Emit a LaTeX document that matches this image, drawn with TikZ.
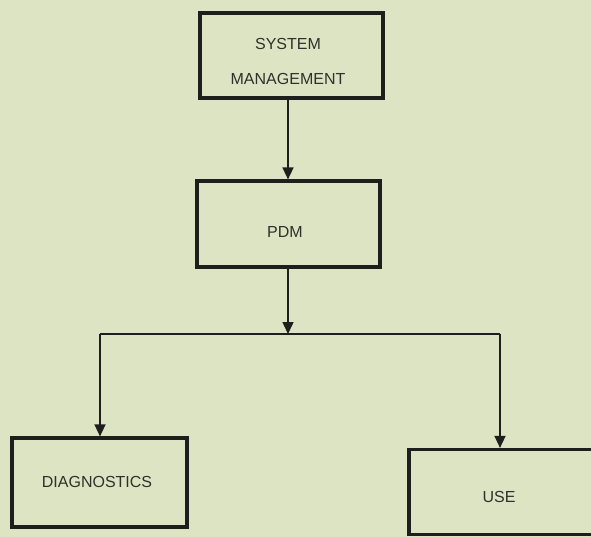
\documentclass[tikz,border=0pt]{standalone}
\usepackage{fontspec}
\setmainfont{Liberation Sans}
\usetikzlibrary{arrows.meta}
\definecolor{paper}{RGB}{221,228,195}
\definecolor{ink}{RGB}{30,30,28}
\definecolor{labelink}{RGB}{48,48,44}
\begin{document}
\begin{tikzpicture}[x=1pt,y=-1pt,
  unit/.style={draw=ink, line width=3.2pt, fill=none, inner sep=0pt},
  tag/.style={text=labelink, font=\fontsize{16}{35}\selectfont,
    align=center, inner sep=0pt},
  link/.style={draw=ink, line width=1.5pt},
  flow/.style={link, -{Triangle[width=11pt,length=12pt]}}]
  % page
  \fill[paper] (0,0) rectangle (591,537);
  \useasboundingbox (0,0) rectangle (591,537);
  % boxes
  \node[unit, minimum width=183pt, minimum height=85pt] (sm) at (291.5,55.5) {};
  \node[unit, minimum width=183pt, minimum height=86pt] (pdm) at (288.5,224) {};
  \node[unit, minimum width=175pt, minimum height=89pt] (diag) at (99.5,482.5) {};
  \node[unit, minimum width=184pt, minimum height=85pt] (use) at (501,492) {};
  % labels
  \node[tag] (smt) at (288,61) {SYSTEM\\MANAGEMENT};
  \node[tag] (pdmt) at (285,232) {PDM};
  \node[tag] (diagt) at (97,482) {DIAGNOSTICS};
  \node[tag] (uset) at (499,497) {USE};
  % branch line
  \coordinate (jn) at (288,334);
  \coordinate (bl) at (100,334);
  \coordinate (br) at (500,334);
  % connectors
  \draw[flow] (sm.south -| jn) -- (pdm.north -| jn);
  \draw[flow] (pdm.south -| jn) -- (jn);
  \draw[link] (bl) -- (br);
  \draw[flow] (bl) -- (bl |- diag.north);
  \draw[flow] (br) -- (br |- use.north);
\end{tikzpicture}
\end{document}
